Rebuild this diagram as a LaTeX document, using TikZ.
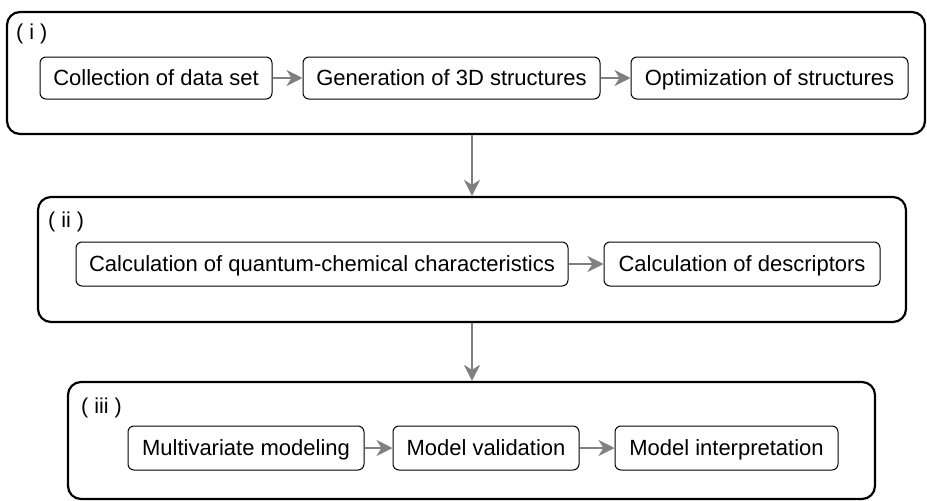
\documentclass[tikz,border=0pt]{standalone}
\usepackage{fontspec}
\setmainfont{Liberation Sans}
\usetikzlibrary{arrows.meta}
\begin{document}
\begin{tikzpicture}[x=1pt,y=-1pt,
  outer/.style={draw=black,line width=2.2pt,rounded corners=13pt,inner sep=0pt},
  stepbox/.style={draw=black,line width=1pt,rounded corners=6pt,inner sep=0pt,text height=15.8pt,text depth=0pt,font=\fontsize{22}{24}\selectfont},
  lab/.style={anchor=west,inner sep=0pt,font=\fontsize{21.5}{24}\selectfont},
  flow/.style={draw={rgb,255:red,128;green,128;blue,128},line width=2.6pt,-{Stealth[length=16pt,width=16pt,inset=5pt]}}]
\useasboundingbox (0,0) rectangle (927,501);
% stage i
\node[outer,minimum width=918pt,minimum height=122pt] (bi) at (466,73) {};
\node[lab] (li) at (16,34) {( i )};
\node[stepbox,minimum width=232pt,minimum height=42pt] (a1) at (156,78) {Collection of data set};
\node[stepbox,minimum width=297pt,minimum height=42pt] (a2) at (451.5,78) {Generation of 3D structures};
\node[stepbox,minimum width=277pt,minimum height=42pt] (a3) at (769.5,78) {Optimization of structures};
% stage ii
\node[outer,minimum width=868pt,minimum height=125pt] (bii) at (472,259.5) {};
\node[lab] (lii) at (48,222) {( ii )};
\node[stepbox,minimum width=492pt,minimum height=44pt] (b1) at (322,264) {Calculation of quantum-chemical characteristics};
\node[stepbox,minimum width=276pt,minimum height=44pt] (b2) at (742,264) {Calculation of descriptors};
% stage iii
\node[outer,minimum width=807pt,minimum height=117pt] (biii) at (471.5,440.5) {};
\node[lab] (liii) at (81,408) {( iii )};
\node[stepbox,minimum width=236pt,minimum height=44pt] (c1) at (246,448) {Multivariate modeling};
\node[stepbox,minimum width=186pt,minimum height=44pt] (c2) at (486,448) {Model validation};
\node[stepbox,minimum width=223pt,minimum height=44pt] (c3) at (726.5,448) {Model interpretation};
% connectors
\draw[flow] (a1) -- (a2);
\draw[flow] (a2) -- (a3);
\draw[flow] (b1) -- (b2);
\draw[flow] (c1) -- (c2);
\draw[flow] (c2) -- (c3);
\draw[flow] (bi.south -| bii.north) -- (bii.north);
\draw[flow] (bii.south) -- (bii.south |- biii.north);
\end{tikzpicture}
\end{document}
